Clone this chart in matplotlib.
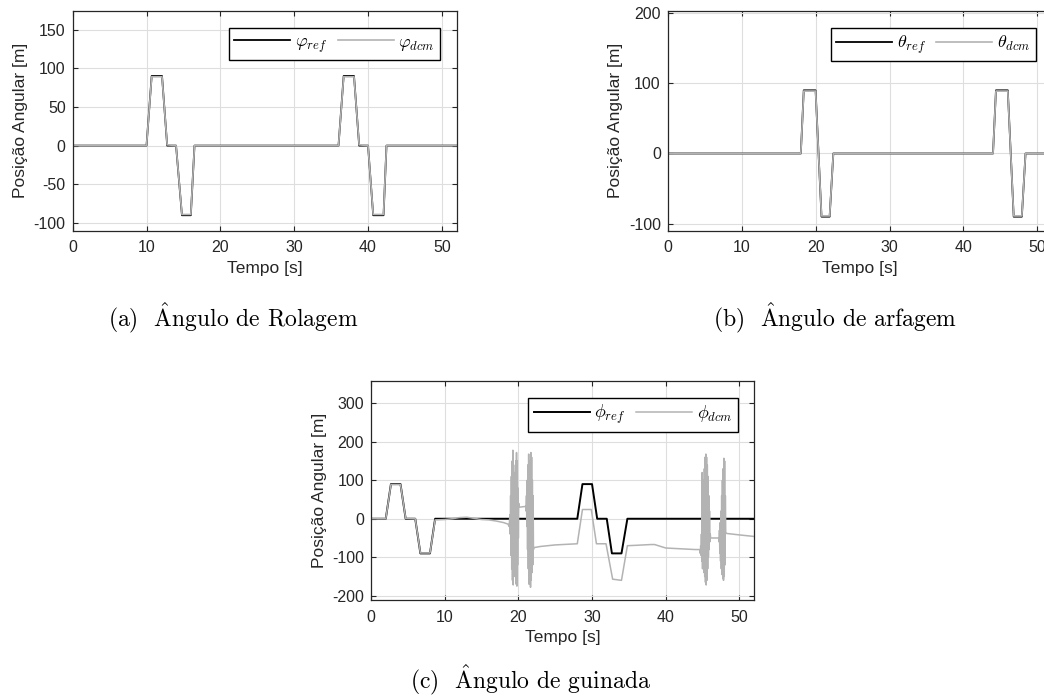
import matplotlib
matplotlib.use('Agg')
import matplotlib.pyplot as plt

plt.rcParams['font.family'] = ['Liberation Sans', 'DejaVu Sans']
plt.rcParams['mathtext.fontset'] = 'cm'
plt.rcParams['axes.unicode_minus'] = False

# --- dados (pontos de quebra) ---
t_roll = [0, 10.0, 10.7, 12.1, 12.8, 14.0, 14.8, 16.0, 16.5, 36.0, 36.7, 38.1, 38.8, 40.0, 40.7, 42.1, 42.5, 52]
roll_ref = [0, 0, 90, 90, 0, 0, -90, -90, 0, 0, 90, 90, 0, 0, -90, -90, 0, 0]
roll_dcm = [0, 0, 89, 89, 1, 0, -89, -89, 0, 0, 89, 89, 1, 0, -89, -89, 0, 0]

t_pitch = [0, 18.0, 18.4, 20.0, 20.8, 21.9, 22.4, 44.0, 44.4, 46.0, 46.8, 47.9, 48.4, 52]
pitch_ref = [0, 0, 90, 90, -90, -90, 0, 0, 90, 90, -90, -90, 0, 0]
pitch_dcm = [0, 0, 89, 89, -89, -89, 0, 0, 89, 89, -89, -89, 0, 0]

t_yaw = [0, 2.0, 2.7, 4.0, 4.7, 6.0, 6.7, 8.0, 8.7, 28.0, 28.7, 30.0, 30.7, 32.0, 32.7, 34.0, 34.8, 52]
yaw_ref = [0, 0, 90, 90, 0, 0, -90, -90, 0, 0, 90, 90, 0, 0, -90, -90, 0, 0]

t_yaw_dcm = [0, 2.0, 2.7, 4.0, 4.7, 6.0, 6.7, 8.0, 8.7, 10, 11, 12, 13, 14, 15, 16, 17, 18, 18.6,
             18.75, 18.85, 18.9, 18.95, 19.0, 19.05, 19.1, 19.15, 19.2, 19.25, 19.3, 19.35, 19.4, 19.45,
             19.5, 19.55, 19.6, 19.65, 19.7, 19.75, 19.8, 19.85, 19.9, 19.95, 20.0, 20.05, 20.1,
             21.0, 21.05, 21.1, 21.15, 21.2, 21.25, 21.3, 21.35, 21.4, 21.45, 21.5, 21.55, 21.6, 21.65,
             21.7, 21.75, 21.8, 21.85, 21.9, 21.95, 22.0, 22.05, 22.1,
             23, 25, 27, 28.0, 28.7, 29.9, 30.6, 31.9, 32.8, 34.0, 34.8, 36, 38, 38.5, 40, 42, 44, 44.6,
             44.7, 44.75, 44.8, 44.85, 44.9, 44.95, 45.0, 45.05, 45.1, 45.15, 45.2, 45.25, 45.3, 45.35,
             45.4, 45.45, 45.5, 45.55, 45.6, 45.65, 45.7, 45.75, 45.8, 45.85, 45.9, 45.95, 46.0, 46.05, 46.1,
             47.2, 47.25, 47.3, 47.35, 47.4, 47.45, 47.5, 47.55, 47.6, 47.65, 47.7, 47.75, 47.8, 47.85,
             47.9, 47.95, 48.0, 48.05, 48.1, 48.15, 48.2, 50, 52]
yaw_dcm = [0, 0, 89, 89, 1, 0, -89, -89, -3, -2, 0, 3, 4, 1, -2, -3, -6, -10, -14,
           -20, 10, -40, 60, -95, 110, -130, 150, -160, 178, -172, 140, -150, 120,
           -110, 90, -120, 150, -170, 172, -175, 150, -120, 80, -50, 40, 30,
           32, 20, 60, -20, 100, -80, 140, -130, 168, -170, 150, -150, 120, -178,
           172, -160, 160, -140, 100, -120, 60, -80, -75,
           -72, -68, -66, -65, 24, 24, -65, -65, -157, -160, -70, -69, -67, -67, -76, -78, -80, -80,
           -90, -70, -95, -40, -110, 120, -130, 60, -100, 100, -140, 130, -150, 160,
           -165, 168, -172, 160, -160, 140, -130, 110, -100, 60, -80, 20, -60, -40, -50,
           -50, -60, -30, -90, -10, -110, 20, -130, 60, -145, 100, -155, 130, -160,
           157, -150, 150, -120, 60, -38, -38, -42, -46]

ref_color = 'black'
dcm_color = '#b3b3b3'
txt_color = '#262626'


def style_axes(ax, yticks, ylim):
    ax.set_xlim(0, 52)
    ax.set_ylim(*ylim)
    ax.set_xticks([0, 10, 20, 30, 40, 50])
    ax.set_yticks(yticks)
    ax.grid(True, color='#dedede', linewidth=0.8)
    ax.set_axisbelow(True)
    ax.tick_params(direction='in', top=True, right=True, length=3.5, width=0.8,
                   labelsize=11.5, colors=txt_color, labelcolor=txt_color)
    ax.tick_params(axis='x', pad=7)
    ax.tick_params(axis='y', pad=5)
    for s in ax.spines.values():
        s.set_linewidth(0.9)
        s.set_color(txt_color)
    ax.set_xlabel('Tempo [s]', fontsize=12.5, labelpad=4, color=txt_color)
    ax.set_ylabel('Posição Angular [m]', fontsize=12.5, labelpad=4, color=txt_color)


def add_legend(ax, top):
    ax.legend(loc='upper right', bbox_to_anchor=(0.957, top), borderaxespad=0, ncol=2,
              fontsize=13, handlelength=3.1, handletextpad=0.25, columnspacing=0.6,
              borderpad=0.3, fancybox=False, framealpha=1, edgecolor='black')


fig = plt.figure(figsize=(10.44, 7.0), dpi=100)
ax1 = fig.add_axes([0.0696, 0.6704, 0.3678, 0.3139])
ax2 = fig.add_axes([0.6396, 0.6704, 0.3682, 0.3139])
ax3 = fig.add_axes([0.3554, 0.1429, 0.3669, 0.3129])

ax1.plot(t_roll, roll_ref, color=ref_color, lw=1.3, label=r'$\varphi_{ref}$')
ax1.plot(t_roll, roll_dcm, color=dcm_color, lw=1.2, label=r'$\varphi_{dcm}$')
style_axes(ax1, [-100, -50, 0, 50, 100, 150], (-110, 174))
add_legend(ax1, 0.921)

ax2.plot(t_pitch, pitch_ref, color=ref_color, lw=1.3, label=r'$\theta_{ref}$')
ax2.plot(t_pitch, pitch_dcm, color=dcm_color, lw=1.2, label=r'$\theta_{dcm}$')
style_axes(ax2, [-100, 0, 100, 200], (-110, 203))
add_legend(ax2, 0.921)

ax3.plot(t_yaw, yaw_ref, color=ref_color, lw=1.4, label=r'$\phi_{ref}$')
ax3.plot(t_yaw_dcm, yaw_dcm, color=dcm_color, lw=1.1, label=r'$\phi_{dcm}$')
style_axes(ax3, [-200, -100, 0, 100, 200, 300], (-211, 358))
add_legend(ax3, 0.924)

cap_kw = dict(ha='center', va='center', fontsize=17, color='black', family=['cmr10', 'DejaVu Serif'])
fig.text(233 / 1044, 1 - 318 / 700, r'(a)  $\hat{\mathrm{A}}$ngulo de Rolagem', **cap_kw)
fig.text(835 / 1044, 1 - 318 / 700, r'(b)  $\hat{\mathrm{A}}$ngulo de arfagem', **cap_kw)
fig.text(531 / 1044, 1 - 680 / 700, r'(c)  $\hat{\mathrm{A}}$ngulo de guinada', **cap_kw)

fig.savefig('out.png', dpi=100)
